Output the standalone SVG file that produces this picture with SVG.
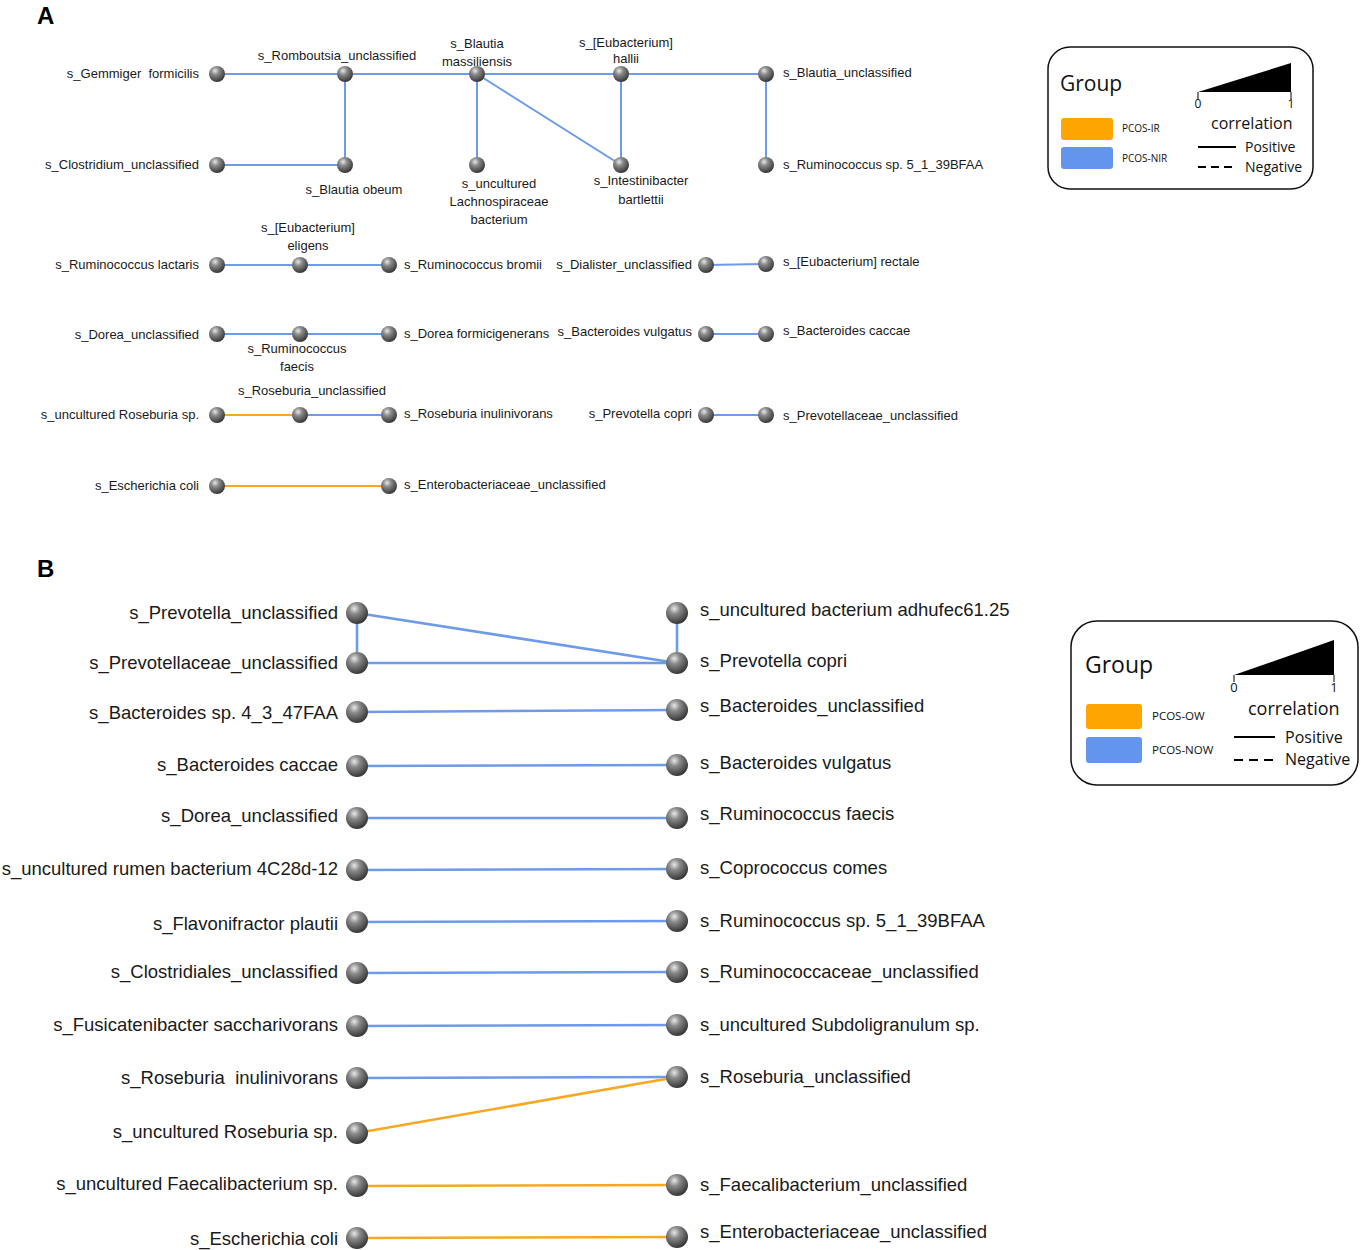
<svg xmlns="http://www.w3.org/2000/svg" width="1361" height="1250" viewBox="0 0 1361 1250">
<style>
text{font-family:"Liberation Sans",Arial,sans-serif;fill:#1a1a1a}
.a{font-size:13px}
.b{font-size:18.5px}
.e{text-anchor:end}
.m{text-anchor:middle}
.pre{white-space:pre}
.blue{stroke:#6d9ae9;fill:none}
.or{stroke:#f7a823;fill:none}
.ea{stroke-width:2}
.eb{stroke-width:2.6}
.panel{font-size:24px;font-weight:bold;fill:#000}
.lg{font-family:"Open Sans","Liberation Sans",sans-serif;fill:#111}
</style>
<defs>
<radialGradient id="sph" cx="0.38" cy="0.3" r="0.72">
<stop offset="0" stop-color="#e8e8e8"/>
<stop offset="0.35" stop-color="#8a8a8a"/>
<stop offset="1" stop-color="#333"/>
</radialGradient>
</defs>
<rect width="1361" height="1250" fill="#fff"/>
<text class="panel" x="37" y="24">A</text>
<text class="panel" x="37" y="577">B</text>

<g id="connectors-A">
<line class="blue ea" x1="217" y1="74" x2="766" y2="74"/>
<line class="blue ea" x1="345" y1="74" x2="345" y2="165"/>
<line class="blue ea" x1="217" y1="165" x2="345" y2="165"/>
<line class="blue ea" x1="477" y1="74" x2="477" y2="165"/>
<line class="blue ea" x1="477" y1="74" x2="621" y2="165"/>
<line class="blue ea" x1="621" y1="74" x2="621" y2="165"/>
<line class="blue ea" x1="766" y1="74" x2="766" y2="165"/>
<line class="blue ea" x1="217" y1="265" x2="389" y2="265"/>
<line class="blue ea" x1="706" y1="265" x2="766" y2="264"/>
<line class="blue ea" x1="217" y1="334" x2="389" y2="334"/>
<line class="blue ea" x1="706" y1="334" x2="766" y2="334"/>
<line class="or ea" x1="217" y1="415" x2="300" y2="415"/>
<line class="blue ea" x1="300" y1="415" x2="389" y2="415"/>
<line class="blue ea" x1="706" y1="415" x2="766" y2="415"/>
<line class="or ea" x1="217" y1="486" x2="389" y2="486"/>
</g>

<g id="nodes-A">
<g id="a-gemmiger"><circle cx="217" cy="74" r="8" fill="url(#sph)"/><text class="a e pre" x="199" y="78">s_Gemmiger  formicilis</text></g>
<g id="a-romboutsia"><circle cx="345" cy="74" r="8" fill="url(#sph)"/><text class="a m" x="337" y="60">s_Romboutsia_unclassified</text></g>
<g id="a-blautia-mass"><circle cx="477" cy="74" r="8" fill="url(#sph)"/><text class="a m" x="477" y="48">s_Blautia</text><text class="a m" x="477" y="66">massiliensis</text></g>
<g id="a-eub-hallii"><circle cx="621" cy="74" r="8" fill="url(#sph)"/><text class="a m" x="626" y="47">s_[Eubacterium]</text><text class="a m" x="626" y="63">hallii</text></g>
<g id="a-blautia-uncl"><circle cx="766" cy="74" r="8" fill="url(#sph)"/><text class="a" x="783" y="77">s_Blautia_unclassified</text></g>
<g id="a-clostridium"><circle cx="217" cy="165" r="8" fill="url(#sph)"/><text class="a e" x="199" y="169">s_Clostridium_unclassified</text></g>
<g id="a-blautia-obeum"><circle cx="345" cy="165" r="8" fill="url(#sph)"/><text class="a m" x="354" y="194">s_Blautia obeum</text></g>
<g id="a-lachno"><circle cx="477" cy="165" r="8" fill="url(#sph)"/><text class="a m" x="499" y="188">s_uncultured</text><text class="a m" x="499" y="206">Lachnospiraceae</text><text class="a m" x="499" y="224">bacterium</text></g>
<g id="a-intestini"><circle cx="621" cy="165" r="8" fill="url(#sph)"/><text class="a m" x="641" y="185">s_Intestinibacter</text><text class="a m" x="641" y="204">bartlettii</text></g>
<g id="a-rum-sp"><circle cx="766" cy="165" r="8" fill="url(#sph)"/><text class="a" x="783" y="169">s_Ruminococcus sp. 5_1_39BFAA</text></g>

<g id="a-rum-lactaris"><circle cx="217" cy="265" r="8" fill="url(#sph)"/><text class="a e" x="199" y="269">s_Ruminococcus lactaris</text></g>
<g id="a-eub-eligens"><circle cx="300" cy="265" r="8" fill="url(#sph)"/><text class="a m" x="308" y="232">s_[Eubacterium]</text><text class="a m" x="308" y="250">eligens</text></g>
<g id="a-rum-bromii"><circle cx="389" cy="265" r="8" fill="url(#sph)"/><text class="a" x="404" y="269">s_Ruminococcus bromii</text></g>
<g id="a-dialister"><circle cx="706" cy="265" r="8" fill="url(#sph)"/><text class="a e" x="692" y="269">s_Dialister_unclassified</text></g>
<g id="a-eub-rectale"><circle cx="766" cy="264" r="8" fill="url(#sph)"/><text class="a" x="783" y="266">s_[Eubacterium] rectale</text></g>

<g id="a-dorea-uncl"><circle cx="217" cy="334" r="8" fill="url(#sph)"/><text class="a e" x="199" y="339">s_Dorea_unclassified</text></g>
<g id="a-rum-faecis"><circle cx="300" cy="334" r="8" fill="url(#sph)"/><text class="a m" x="297" y="353">s_Ruminococcus</text><text class="a m" x="297" y="371">faecis</text></g>
<g id="a-dorea-form"><circle cx="389" cy="334" r="8" fill="url(#sph)"/><text class="a" x="404" y="338">s_Dorea formicigenerans</text></g>
<g id="a-bact-vulg"><circle cx="706" cy="334" r="8" fill="url(#sph)"/><text class="a e" x="692" y="336">s_Bacteroides vulgatus</text></g>
<g id="a-bact-caccae"><circle cx="766" cy="334" r="8" fill="url(#sph)"/><text class="a" x="783" y="335">s_Bacteroides caccae</text></g>

<g id="a-unc-roseburia"><circle cx="217" cy="415" r="8" fill="url(#sph)"/><text class="a e" x="199" y="419">s_uncultured Roseburia sp.</text></g>
<g id="a-roseburia-uncl"><circle cx="300" cy="415" r="8" fill="url(#sph)"/><text class="a m" x="312" y="395">s_Roseburia_unclassified</text></g>
<g id="a-roseburia-inul"><circle cx="389" cy="415" r="8" fill="url(#sph)"/><text class="a" x="404" y="418">s_Roseburia inulinivorans</text></g>
<g id="a-prev-copri"><circle cx="706" cy="415" r="8" fill="url(#sph)"/><text class="a e" x="692" y="418">s_Prevotella copri</text></g>
<g id="a-prevotellaceae"><circle cx="766" cy="415" r="8" fill="url(#sph)"/><text class="a" x="783" y="420">s_Prevotellaceae_unclassified</text></g>

<g id="a-ecoli"><circle cx="217" cy="486" r="8" fill="url(#sph)"/><text class="a e" x="199" y="490">s_Escherichia coli</text></g>
<g id="a-entero"><circle cx="389" cy="486" r="8" fill="url(#sph)"/><text class="a" x="404" y="489">s_Enterobacteriaceae_unclassified</text></g>
</g>

<g id="legend-A">
<rect x="1048" y="47" width="265" height="142" rx="22" fill="#fff" stroke="#111" stroke-width="1.5"/>
<text class="lg" x="1060" y="91" font-size="21">Group</text>
<rect x="1061" y="118" width="52" height="22" rx="3" fill="#ffa500"/>
<rect x="1061" y="147" width="52" height="22" rx="3" fill="#6495ed"/>
<text class="lg" x="1122" y="132" font-size="10">PCOS-IR</text>
<text class="lg" x="1122" y="162" font-size="10">PCOS-NIR</text>
<polygon points="1198,92 1291,63 1291,92" fill="#000"/>
<line x1="1198" y1="92" x2="1198" y2="99" stroke="#000" stroke-width="1"/>
<line x1="1291" y1="92" x2="1291" y2="99" stroke="#000" stroke-width="1"/>
<text class="lg m" x="1198" y="108" font-size="12">0</text>
<text class="lg m" x="1291" y="108" font-size="12">1</text>
<text class="lg" x="1211" y="129" font-size="16">correlation</text>
<line x1="1198" y1="147" x2="1236" y2="147" stroke="#000" stroke-width="2"/>
<line x1="1198" y1="167" x2="1236" y2="167" stroke="#000" stroke-width="2" stroke-dasharray="8,5"/>
<text class="lg" x="1245" y="152" font-size="14">Positive</text>
<text class="lg" x="1245" y="172" font-size="14">Negative</text>
</g>

<g id="connectors-B">
<line class="blue eb" x1="357" y1="613" x2="677" y2="663"/>
<line class="blue eb" x1="357" y1="613" x2="357" y2="663"/>
<line class="blue eb" x1="357" y1="663" x2="677" y2="663"/>
<line class="blue eb" x1="677" y1="613" x2="677" y2="663"/>
<line class="blue eb" x1="357" y1="712" x2="677" y2="710"/>
<line class="blue eb" x1="357" y1="766" x2="677" y2="765"/>
<line class="blue eb" x1="357" y1="818" x2="677" y2="818"/>
<line class="blue eb" x1="357" y1="870" x2="677" y2="869"/>
<line class="blue eb" x1="357" y1="922" x2="677" y2="921"/>
<line class="blue eb" x1="357" y1="973" x2="677" y2="972"/>
<line class="blue eb" x1="357" y1="1026" x2="677" y2="1025"/>
<line class="blue eb" x1="357" y1="1078" x2="677" y2="1077"/>
<line class="or eb" x1="357" y1="1133" x2="677" y2="1077"/>
<line class="or eb" x1="357" y1="1186" x2="677" y2="1185"/>
<line class="or eb" x1="357" y1="1238" x2="677" y2="1237"/>
</g>

<g id="nodes-B">
<g id="b-prevotella-uncl"><circle cx="357" cy="613" r="11" fill="url(#sph)"/><text class="b e" x="338" y="619">s_Prevotella_unclassified</text></g>
<g id="b-adhufec"><circle cx="677" cy="613" r="11" fill="url(#sph)"/><text class="b" x="700" y="616">s_uncultured bacterium adhufec61.25</text></g>
<g id="b-prevotellaceae"><circle cx="357" cy="663" r="11" fill="url(#sph)"/><text class="b e" x="338" y="669">s_Prevotellaceae_unclassified</text></g>
<g id="b-prev-copri"><circle cx="677" cy="663" r="11" fill="url(#sph)"/><text class="b" x="700" y="667">s_Prevotella copri</text></g>
<g id="b-bact-sp"><circle cx="357" cy="712" r="11" fill="url(#sph)"/><text class="b e" x="338" y="719">s_Bacteroides sp. 4_3_47FAA</text></g>
<g id="b-bact-uncl"><circle cx="677" cy="710" r="11" fill="url(#sph)"/><text class="b" x="700" y="712">s_Bacteroides_unclassified</text></g>
<g id="b-bact-caccae"><circle cx="357" cy="766" r="11" fill="url(#sph)"/><text class="b e" x="338" y="771">s_Bacteroides caccae</text></g>
<g id="b-bact-vulg"><circle cx="677" cy="765" r="11" fill="url(#sph)"/><text class="b" x="700" y="769">s_Bacteroides vulgatus</text></g>
<g id="b-dorea"><circle cx="357" cy="818" r="11" fill="url(#sph)"/><text class="b e" x="338" y="822">s_Dorea_unclassified</text></g>
<g id="b-rum-faecis"><circle cx="677" cy="818" r="11" fill="url(#sph)"/><text class="b" x="700" y="820">s_Ruminococcus faecis</text></g>
<g id="b-rumen"><circle cx="357" cy="870" r="11" fill="url(#sph)"/><text class="b e" x="338" y="875">s_uncultured rumen bacterium 4C28d-12</text></g>
<g id="b-coprococcus"><circle cx="677" cy="869" r="11" fill="url(#sph)"/><text class="b" x="700" y="874">s_Coprococcus comes</text></g>
<g id="b-flavonifractor"><circle cx="357" cy="922" r="11" fill="url(#sph)"/><text class="b e" x="338" y="930">s_Flavonifractor plautii</text></g>
<g id="b-rum-sp"><circle cx="677" cy="921" r="11" fill="url(#sph)"/><text class="b" x="700" y="927">s_Ruminococcus sp. 5_1_39BFAA</text></g>
<g id="b-clostridiales"><circle cx="357" cy="973" r="11" fill="url(#sph)"/><text class="b e" x="338" y="978">s_Clostridiales_unclassified</text></g>
<g id="b-ruminococcaceae"><circle cx="677" cy="972" r="11" fill="url(#sph)"/><text class="b" x="700" y="978">s_Ruminococcaceae_unclassified</text></g>
<g id="b-fusicatenibacter"><circle cx="357" cy="1026" r="11" fill="url(#sph)"/><text class="b e" x="338" y="1031">s_Fusicatenibacter saccharivorans</text></g>
<g id="b-subdoligranulum"><circle cx="677" cy="1025" r="11" fill="url(#sph)"/><text class="b" x="700" y="1031">s_uncultured Subdoligranulum sp.</text></g>
<g id="b-roseburia-inul"><circle cx="357" cy="1078" r="11" fill="url(#sph)"/><text class="b e pre" x="338" y="1084">s_Roseburia  inulinivorans</text></g>
<g id="b-roseburia-uncl"><circle cx="677" cy="1077" r="11" fill="url(#sph)"/><text class="b" x="700" y="1083">s_Roseburia_unclassified</text></g>
<g id="b-unc-roseburia"><circle cx="357" cy="1133" r="11" fill="url(#sph)"/><text class="b e" x="338" y="1138">s_uncultured Roseburia sp.</text></g>
<g id="b-unc-faecali"><circle cx="357" cy="1186" r="11" fill="url(#sph)"/><text class="b e" x="338" y="1190">s_uncultured Faecalibacterium sp.</text></g>
<g id="b-faecali-uncl"><circle cx="677" cy="1185" r="11" fill="url(#sph)"/><text class="b" x="700" y="1191">s_Faecalibacterium_unclassified</text></g>
<g id="b-ecoli"><circle cx="357" cy="1238" r="11" fill="url(#sph)"/><text class="b e" x="338" y="1245">s_Escherichia coli</text></g>
<g id="b-entero"><circle cx="677" cy="1237" r="11" fill="url(#sph)"/><text class="b" x="700" y="1238">s_Enterobacteriaceae_unclassified</text></g>
</g>

<g id="legend-B">
<rect x="1071" y="621" width="287" height="164" rx="26" fill="#fff" stroke="#111" stroke-width="1.5"/>
<text class="lg" x="1085" y="673" font-size="23">Group</text>
<rect x="1086" y="704" width="56" height="25" rx="3" fill="#ffa500"/>
<rect x="1086" y="737" width="56" height="26" rx="3" fill="#6495ed"/>
<text class="lg" x="1152" y="720" font-size="11.5">PCOS-OW</text>
<text class="lg" x="1152" y="754" font-size="11.5">PCOS-NOW</text>
<polygon points="1234,675 1334,640 1334,675" fill="#000"/>
<line x1="1234" y1="675" x2="1234" y2="682" stroke="#000" stroke-width="1"/>
<line x1="1334" y1="675" x2="1334" y2="682" stroke="#000" stroke-width="1"/>
<text class="lg m" x="1234" y="692" font-size="13">0</text>
<text class="lg m" x="1334" y="692" font-size="13">1</text>
<text class="lg" x="1248" y="715" font-size="18">correlation</text>
<line x1="1234" y1="737" x2="1275" y2="737" stroke="#000" stroke-width="2"/>
<line x1="1234" y1="760" x2="1275" y2="760" stroke="#000" stroke-width="2" stroke-dasharray="9,6"/>
<text class="lg" x="1285" y="743" font-size="16">Positive</text>
<text class="lg" x="1285" y="765" font-size="16">Negative</text>
</g>
</svg>
